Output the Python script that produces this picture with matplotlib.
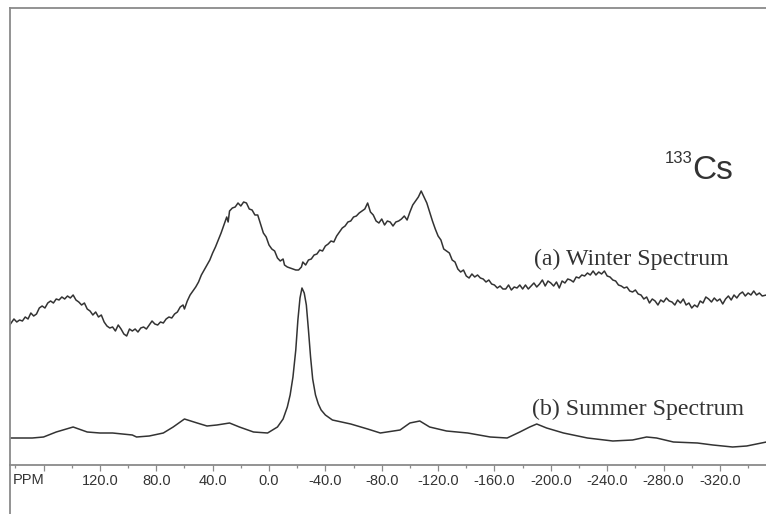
import matplotlib
matplotlib.use("Agg")
import matplotlib.pyplot as plt
from matplotlib.ticker import MultipleLocator, FixedLocator


# chemical shift (ppm) and intensity (arbitrary units)
winter_ppm = [
    184,
    181, 179, 177, 175, 173, 171, 169, 167, 165, 163,
    161, 159, 157, 155, 153, 151, 149, 147, 145, 143,
    141, 139, 137, 135, 133, 131, 129, 127, 125, 123,
    121, 119, 117, 115, 113, 111, 109, 107, 105, 103,
    101, 99, 97, 95, 93, 91, 89, 87, 85, 83,
    81, 79, 77, 75, 73, 71, 69, 67, 65, 63, 61,
    60, 58, 56, 54, 52, 50, 48, 46, 44, 42, 40, 38, 36, 34, 32, 30,
    29,
    28, 26, 24, 22, 20, 18, 16, 14, 12, 10, 8, 6, 4, 2, 0, -2, -4, -6, -8, -10,
    -11, -13, -15, -17, -19, -21, -23,
    -24, -26, -28, -30, -32, -34, -36, -38, -40, -42,
    -44, -46, -48, -50, -52, -54, -56, -58, -60, -62,
    -64, -66, -68, -70, -72, -74, -76, -78, -80, -82,
    -84, -86, -88, -90, -92, -94, -96, -98, -100, -102,
    -104, -106, -108, -110, -112, -114, -116, -118, -120, -122,
    -124, -126, -128, -130, -132, -134, -136, -138, -140, -142,
    -144, -146, -148, -150, -152, -154, -156, -158, -160, -162,
    -164, -166, -168, -170, -172, -174, -176, -178, -180, -182,
    -184, -186, -188, -190, -192, -194, -196, -198, -200, -202,
    -204, -206, -208, -210, -212, -214, -216, -218, -220, -222,
    -224, -226, -228, -230, -232, -234, -236, -238, -240, -242,
    -244, -246, -248, -250, -252, -254, -256, -258, -260, -262,
    -264, -266, -268, -270, -272, -274, -276, -278, -280, -282,
    -284, -286, -288, -290, -292, -294, -296, -298, -300, -302,
    -304, -306, -308, -310, -312, -314, -316, -318, -320, -322,
    -324, -326, -328, -330, -332, -334, -336, -338, -340, -342,
    -344, -346, -348, -350,
    -353,
]
winter_int = [
    140,
    146, 143, 145, 144, 148, 146, 152, 149, 151, 157,
    159, 157, 162, 164, 162, 166, 165, 168, 166, 169,
    167, 170, 165, 163, 160, 162, 156, 154, 150, 153,
    148, 150, 143, 139, 137, 138, 134, 140, 136, 131,
    129, 136, 134, 136, 133, 137, 138, 136, 140, 144,
    141, 140, 143, 142, 146, 148, 147, 151, 153, 158, 160,
    156, 164, 170, 174, 178, 183, 190, 195, 200, 205, 212, 218, 225, 232, 240, 248,
    243,
    254, 257, 258, 262, 259, 263, 262, 256, 255, 250, 250, 241, 232, 228, 220, 216, 214, 207, 204, 206,
    200, 198, 197, 196, 195, 195, 198,
    203, 200, 205, 206, 210, 211, 215, 214, 219, 221,
    224, 223, 229, 233, 237, 239, 243, 244, 248, 249,
    252, 254, 256, 262, 253, 250, 244, 242, 246, 240,
    244, 243, 239, 243, 244, 246, 249, 245, 253, 260,
    264, 268, 274, 268, 262, 253, 244, 236, 229, 225,
    216, 214, 212, 205, 203, 196, 193, 195, 189, 187,
    191, 188, 190, 187, 186, 183, 185, 181, 180, 177,
    179, 176, 176, 180, 175, 178, 177, 180, 176, 180,
    176, 179, 182, 178, 181, 185, 179, 184, 182, 179,
    183, 177, 184, 182, 186, 185, 183, 188, 187, 190,
    189, 192, 190, 194, 190, 193, 191, 194, 189, 188,
    185, 184, 180, 179, 177, 178, 174, 173, 175, 171,
    170, 166, 168, 162, 166, 164, 160, 165, 163, 167,
    164, 163, 160, 165, 162, 166, 160, 162, 157, 160,
    158, 164, 162, 168, 166, 163, 167, 164, 166, 161,
    166, 169, 165, 170, 167, 171, 173, 169, 172, 170,
    174, 170, 172, 169,
    170,
]
assert len(winter_ppm) == len(winter_int)

summer_ppm = [184, 168, 160, 151, 139, 129, 120, 111, 97, 94, 85, 75, 68, 60, 51, 44,
              37, 28, 21, 11, 1, -6, -10, -13, -15, -17, -19, -20.5, -22, -23.4, -25,
              -26.5, -28, -29.5, -31, -33, -35, -37, -40, -45, -58, -70, -79, -93,
              -100, -107, -114, -126, -141, -157, -169, -178, -185, -190, -197, -209,
              -226, -244, -258, -268, -275, -287, -304, -315, -329, -339, -353]
summer_int = [27, 27, 28, 33, 38, 33, 32, 32, 30, 28, 29, 32, 38, 46, 42, 39, 40, 42,
              38, 33, 32, 38, 46, 58, 70, 88, 115, 145, 167, 177, 172, 160, 135, 108,
              86, 70, 61, 55, 50, 45, 41, 36, 32, 35, 42, 44, 38, 34, 32, 28, 27, 33,
              38, 41, 37, 32, 27, 24, 25, 28, 27, 23, 22, 20, 18, 19, 23]
assert len(summer_ppm) == len(summer_int)

major_ticks = [160, 120, 80, 40, 0, -40, -80, -120, -160, -200, -240, -280, -320]
tick_labels = ["", "120.0", "80.0", "40.0", "0.0", "-40.0", "-80.0", "-120.0",
               "-160.0", "-200.0", "-240.0", "-280.0", "-320.0"]

frame_color = "#8a8a8a"
ink = "#333333"

fig = plt.figure(figsize=(7.66, 5.14), dpi=100)
ax = fig.add_axes([10 / 766, 49 / 514, 756 / 766, 457 / 514])

ax.plot(winter_ppm, winter_int, color=ink, lw=1.1)
ax.plot(summer_ppm, summer_int, color=ink, lw=1.1)

ax.set_xlim(183.8, -352.7)
ax.set_ylim(0, 457)

ax.spines["right"].set_visible(False)
for side in ("left", "top", "bottom"):
    ax.spines[side].set_color(frame_color)
    ax.spines[side].set_linewidth(1.3)

ax.xaxis.set_major_locator(FixedLocator(major_ticks))
ax.set_xticklabels(tick_labels)
ax.xaxis.set_minor_locator(MultipleLocator(20))
ax.tick_params(axis="x", which="major", direction="out", length=4.5, width=0.9,
               color=frame_color, pad=2, labelsize=10.5, labelcolor=ink)
ax.tick_params(axis="x", which="minor", direction="out", length=2.5, width=0.9,
               color=frame_color)
for lab in ax.get_xticklabels():
    lab.set_fontfamily("Liberation Sans")
ax.set_yticks([])

ax.text(0.003, -0.033, "PPM", transform=ax.transAxes, ha="left", va="center",
        fontsize=10.5, color=ink, family="Liberation Sans")

ax.text(0.693, 0.449, "(a) Winter Spectrum", transform=ax.transAxes, ha="left",
        va="center", fontsize=17.2, color=ink, family="Liberation Serif")
ax.text(0.690, 0.122, "(b) Summer Spectrum", transform=ax.transAxes, ha="left",
        va="center", fontsize=17.2, color=ink, family="Liberation Serif")

ax.text(0.866, 0.670, "133", transform=ax.transAxes, ha="left", va="center",
        fontsize=12, color=ink, family="Liberation Sans")
ax.text(0.903, 0.645, "Cs", transform=ax.transAxes, ha="left", va="center",
        fontsize=24, color=ink, family="Liberation Sans")

# left frame line continues below the ppm scale
low = fig.add_axes([10 / 766, 0, 0.05, 49 / 514])
low.set_xticks([])
low.set_yticks([])
for side in ("right", "top", "bottom"):
    low.spines[side].set_visible(False)
low.spines["left"].set_color(frame_color)
low.spines["left"].set_linewidth(1.3)
low.patch.set_alpha(0)

fig.savefig("out.png", dpi=100)
